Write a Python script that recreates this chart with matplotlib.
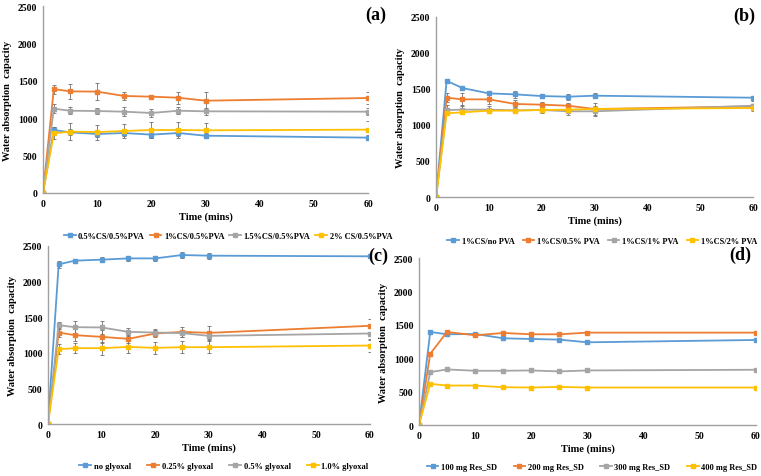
import numpy as np
import matplotlib
matplotlib.use('Agg')
import matplotlib.pyplot as plt

plt.rcParams['font.family'] = ['Liberation Serif', 'DejaVu Serif']
plt.rcParams['font.weight'] = 'bold'

t = [0, 2, 5, 10, 15, 20, 25, 30, 60]
colors = ['#5B9BD5', '#ED7D31', '#A5A5A5', '#FFC000']

# (a) CS concentration
a_labels = ['0.5%CS/0.5%PVA', '1%CS/0.5%PVA', '1.5%CS/0.5%PVA', '2% CS/0.5%PVA']
a_vals = [
    [0, 842, 811, 789, 802, 780, 802, 766, 740],
    [0, 1390, 1359, 1355, 1297, 1288, 1274, 1234, 1270],
    [0, 1127, 1100, 1096, 1087, 1070, 1100, 1092, 1087],
    [0, 798, 820, 815, 829, 842, 842, 838, 847],
]
a_err = [
    [0, 45, 40, 40, 40, 40, 40, 30, 30],
    [0, 60, 100, 110, 60, 25, 80, 110, 80],
    [0, 60, 50, 40, 60, 50, 50, 50, 50],
    [0, 80, 110, 100, 100, 110, 110, 100, 110],
]

# (b) PVA concentration
b_labels = ['1%CS/no PVA', '1%CS/0.5% PVA', '1%CS/1% PVA', '1%CS/2% PVA']
b_vals = [
    [0, 1614, 1513, 1439, 1425, 1402, 1393, 1407, 1379],
    [0, 1379, 1356, 1356, 1292, 1282, 1268, 1222, 1258],
    [0, 1208, 1213, 1213, 1204, 1208, 1190, 1190, 1268],
    [0, 1162, 1176, 1199, 1199, 1208, 1213, 1222, 1236],
]
b_err = [
    [0, 20, 25, 15, 50, 20, 40, 35, 20],
    [0, 60, 90, 60, 60, 40, 40, 80, 40],
    [0, 70, 60, 50, 40, 40, 50, 70, 60],
    [0, 30, 30, 20, 30, 20, 30, 20, 40],
]

# (c) glyoxal concentration
c_labels = ['no glyoxal', '0.25% glyoxal', '0.5% glyoxal', '1.0% glyoxal']
c_vals = [
    [0, 2242, 2294, 2308, 2326, 2326, 2373, 2364, 2355],
    [0, 1285, 1248, 1224, 1196, 1271, 1294, 1280, 1379],
    [0, 1388, 1360, 1356, 1294, 1285, 1276, 1238, 1271],
    [0, 1051, 1065, 1065, 1083, 1069, 1079, 1079, 1102],
]
c_err = [
    [0, 45, 30, 35, 40, 40, 40, 40, 0],
    [0, 60, 80, 90, 60, 50, 70, 90, 100],
    [0, 50, 90, 90, 60, 50, 50, 60, 90],
    [0, 70, 70, 90, 80, 80, 80, 80, 90],
]

# (d) Res_SD amount
d_labels = ['100 mg Res_SD', '200 mg Res_SD', '300 mg Res_SD', '400 mg Res_SD']
d_vals = [
    [0, 1393, 1358, 1363, 1298, 1288, 1278, 1238, 1273],
    [0, 1067, 1393, 1343, 1378, 1358, 1358, 1383, 1383],
    [0, 792, 832, 812, 812, 817, 802, 817, 827],
    [0, 616, 591, 591, 566, 561, 571, 561, 561],
]

W, H = 761, 477
fig = plt.figure(figsize=(W / 100, H / 100), dpi=100)

# tag, axes box, legend anchor (px), legend loc, tag centre (px), colspacing
panels = [
    ('(a)', [0.0565, 0.5933, 0.4271, 0.392], a_labels, a_vals, a_err, (228, 237), 'center', (376, 15), 0.6),
    ('(b)', [0.573, 0.5849, 0.4165, 0.3774], b_labels, b_vals, b_err, (757, 242), 'center right', (744, 16), 1.0),
    ('(c)', [0.063, 0.109, 0.423, 0.3732], c_labels, c_vals, c_err, (224, 467), 'center', (378, 256), 2.0),
    ('(d)', [0.5506, 0.1069, 0.4428, 0.3501], d_labels, d_vals, None, (592, 468), 'center', (740, 255), 2.0),
]

for tag, pos, labels, vals, errs, legpos, legloc, tagpos, cs in panels:
    ax = fig.add_axes(pos)
    for i in range(4):
        if errs is not None:
            ax.errorbar(t, vals[i], yerr=errs[i], fmt='none', ecolor='#6f6f6f',
                        elinewidth=0.6, capsize=1.5, capthick=0.6, zorder=1)
        ax.plot(t, vals[i], color=colors[i], lw=1.3, marker='s', ms=2.5,
                label=labels[i], zorder=2)
    ax.set_xlim(0, 60)
    ax.set_ylim(0, 2500)
    ax.set_xticks(range(0, 61, 10))
    ax.set_yticks(range(0, 2501, 500))
    ax.tick_params(length=0, labelsize=7, pad=4)
    for s in ['top', 'right']:
        ax.spines[s].set_visible(False)
    for s in ['left', 'bottom']:
        ax.spines[s].set_color('#a0a0a0')
        ax.spines[s].set_linewidth(1.0)
    ax.set_xlabel('Time (mins)', fontsize=7.5, fontweight='bold', labelpad=3)
    ax.set_ylabel('Water absorption  capacity', fontsize=7.5, fontweight='bold', labelpad=4)
    fig.text(tagpos[0] / W, 1 - tagpos[1] / H, tag, ha='center', va='center',
             fontsize=13, fontweight='bold')
    fig.legend(*ax.get_legend_handles_labels(), loc=legloc,
               bbox_to_anchor=(legpos[0] / W, 1 - legpos[1] / H),
               ncol=4, frameon=False, fontsize=6, handlelength=1.4, handletextpad=0.3,
               columnspacing=cs, borderaxespad=0, borderpad=0)

fig.savefig('out.png', dpi=100)
